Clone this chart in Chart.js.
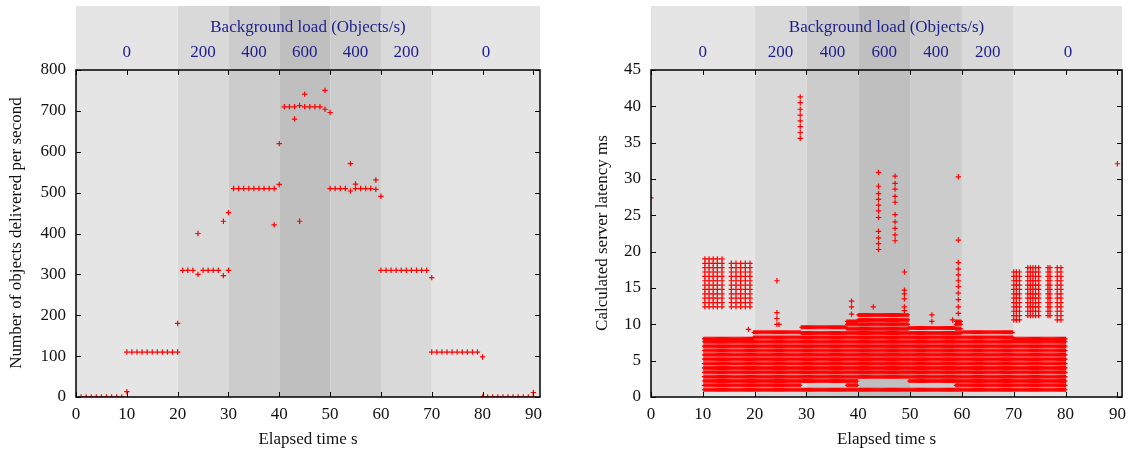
<!DOCTYPE html>
<html>
<head>
<meta charset="utf-8">
<script src="https://cdn.jsdelivr.net/npm/chart.js@4.4.0/dist/chart.umd.min.js"></script>
<style>
    html, body { margin: 0; padding: 0; background: #fff; }
    #wrap { position: relative; width: 1133px; height: 455px; }
    .box { position: absolute; top: 0; height: 455px; }
</style>
</head>
<body>
<div id="wrap">
    <div class="box" style="left:0;width:566px"><canvas id="delivered-chart"></canvas></div>
    <div class="box" style="left:566px;width:567px"><canvas id="latency-chart"></canvas></div>
</div>
<script>
// Background load phases (start second of each phase) and their labels
const loadEdges = [0, 20, 30, 40, 50, 60, 70];
const loadLabels = ['0', '200', '400', '600', '400', '200', '0'];

// Tick values
const timeTicks = [0, 10, 20, 30, 40, 50, 60, 70, 80, 90];
const deliveredTicks = [0, 100, 200, 300, 400, 500, 600, 700, 800];
const latencyTicks = [0, 5, 10, 15, 20, 25, 30, 35, 40, 45];

// Objects delivered per second, one value for each second 1..90
const deliveredRate = [
    0, 0, 0, 0, 0, 0, 0, 0, 0, 110,
    110, 110, 110, 110, 110, 110, 110, 110, 110, 110,
    310, 310, 310, 300, 310, 310, 310, 310, 297, 310,
    510, 510, 510, 510, 510, 510, 510, 510, 510, 520,
    710, 710, 710, 713, 710, 710, 710, 710, 704, 510,
    510, 510, 510, 504, 510, 510, 510, 510, 508, 310,
    310, 310, 310, 310, 310, 310, 310, 310, 310, 110,
    110, 110, 110, 110, 110, 110, 110, 110, 110, 0,
    0, 0, 0, 0, 0, 0, 0, 0, 0, 0
];
// second samples that were logged twice
const extraSeconds = [10, 20, 24, 29, 30, 39, 40, 43, 44, 45, 49, 50, 54, 55, 59, 60, 70, 80, 90];
const extraRates = [13, 180, 400, 430, 451, 421, 620, 680, 430, 741, 750, 696, 571, 521, 531, 491, 292, 98, 11];

// Latency: measured values fall on these quantised levels (ms)
const latencyLevels = [1.0, 1.6, 2.2, 2.8, 3.4, 4.0, 4.6, 5.2, 5.8, 6.4, 7.0, 7.6, 8.2, 8.8, 9.4,
    10.0, 10.6, 11.2, 11.8, 12.4, 13.0, 13.6, 14.2, 14.8, 15.4, 16.0, 16.6, 17.2, 17.8, 18.4, 19.0];
// sample times inside each second
const subSecond = [0, 0.2, 0.4, 0.6, 0.8];

// bulk of requests, per phase
const bulkStart = [10.2, 19.8, 29.0, 37.8, 40.0, 49.8, 58.8, 60.0, 70.0];
const bulkEnd   = [19.8, 29.0, 37.8, 40.0, 49.8, 58.8, 60.0, 70.0, 80.1];
const bulkFloor = [1.0, 1.0, 1.0, 1.0, 1.0, 1.0, 1.0, 1.0, 1.0];
const bulkLow   = [1.6, 1.6, 2.2, 1.6, 2.8, 2.2, 1.6, 1.6, 1.6];
const bulkTop   = [8.0, 8.9, 9.6, 10.4, 11.3, 9.5, 10.4, 8.9, 8.0];

// slow bursts right after a phase change
const burstTimes = [
    [10.4, 11.2, 12.0, 12.8, 13.7],
    [15.5, 16.4, 17.3, 18.2, 19.1],
    [70.0, 70.5, 71.1],
    [72.7, 73.2, 73.7, 74.2, 74.8],
    [76.6, 77.0],
    [78.4, 79.1]
];
const burstLow  = [12.3, 11.9, 10.5, 11.1, 11.0, 10.6];
const burstHigh = [19.1, 18.9, 17.3, 18.0, 17.9, 17.9];

// isolated slow requests
const spikeTimes = [0, 90,
    28.8, 28.8, 28.8, 28.8, 28.8, 28.8, 28.8, 28.8,
    24.3, 24.3, 24.3, 24.3, 24.7, 18.8,
    38.7, 38.7, 38.7, 42.9,
    43.9, 43.9, 43.9, 43.9, 43.9, 43.9, 43.9, 43.9, 43.9, 43.9, 43.9,
    47.1, 47.1, 47.1, 47.1, 47.1, 47.1, 47.1, 47.1, 47.1, 47.1,
    48.9, 48.9, 48.9, 48.9, 48.9, 48.9,
    54.2, 54.2, 58.2,
    59.3, 59.3, 59.3, 59.3, 59.3, 59.3, 59.3, 59.3, 59.3, 59.3, 59.3];
const spikeLatency = [27.4, 32.1,
    35.6, 36.4, 37.2, 38.0, 38.8, 39.6, 40.5, 41.3,
    16.0, 11.6, 10.8, 10.0, 10.0, 9.3,
    13.2, 12.4, 11.4, 12.4,
    20.3, 21.1, 21.9, 22.8, 24.7, 25.6, 26.4, 27.2, 28.0, 29.0, 30.9,
    21.5, 22.3, 23.2, 24.1, 25.1, 26.8, 27.6, 28.6, 29.4, 30.4,
    17.2, 14.7, 14.2, 13.5, 12.4, 11.9,
    11.3, 10.4, 10.6,
    30.3, 21.6, 18.5, 17.6, 16.8, 16.0, 15.2, 14.3, 13.4, 12.4, 11.5];

const FONT = "'Liberation Serif', 'Times New Roman', serif";
const bandShades = ['#e5e5e5', '#d9d9d9', '#cccccc', '#bfbfbf', '#cccccc', '#d9d9d9', '#e5e5e5'];

Chart.defaults.font.family = FONT;
Chart.defaults.font.size = 17;
Chart.defaults.color = '#111';

function buildDelivered() {
    const pts = deliveredRate.map((v, i) => ({ x: i + 1, y: v }));
    extraSeconds.forEach((s, i) => pts.push({ x: s, y: extraRates[i] }));
    return pts;
}

function buildBulk() {
    const pts = [];
    bulkStart.forEach((start, k) => {
        const end = bulkEnd[k];
        const rows = [bulkFloor[k]].concat(
            latencyLevels.filter(l => l >= bulkLow[k] && l <= bulkTop[k] - 0.3), [bulkTop[k]]);
        for (let s = Math.floor(start); s < end; s++) {
            subSecond.forEach(off => {
                const t = s + off;
                if (t < start || t >= end) return;
                rows.forEach(r => pts.push({ x: t, y: r }));
            });
        }
    });
    return pts;
}

function buildSlow() {
    const pts = [];
    burstTimes.forEach((times, k) => {
        const rows = latencyLevels.filter(l => l >= burstLow[k] && l <= burstHigh[k]);
        times.forEach(t => rows.forEach(r => pts.push({ x: t, y: r })));
    });
    spikeTimes.forEach((t, i) => pts.push({ x: t, y: spikeLatency[i] }));
    return pts;
}

// shaded load phases, top label strip, gnuplot-like border and inward ticks
const loadBands = {
    id: 'loadBands',
    beforeDatasetsDraw(chart) {
        const { ctx, chartArea: a, scales: { x } } = chart;
        ctx.save();
        ctx.font = '17px ' + FONT;
        ctx.textAlign = 'center';
        ctx.textBaseline = 'middle';
        loadEdges.forEach((start, i) => {
            const end = i + 1 < loadEdges.length ? loadEdges[i + 1] : x.max;
            const x0 = x.getPixelForValue(start);
            const x1 = x.getPixelForValue(end);
            ctx.fillStyle = bandShades[i];
            ctx.fillRect(x0, 6, x1 - x0, a.bottom - 6);
            ctx.fillStyle = '#1e1e8c';
            ctx.fillText(loadLabels[i], (x0 + x1) / 2, 53);
        });
        ctx.fillText('Background load (Objects/s)', (a.left + a.right) / 2, 28);
        ctx.restore();
    },
    afterDatasetsDraw(chart, args, opts) {
        const { ctx, chartArea: a, scales: { x, y } } = chart;
        ctx.save();
        ctx.strokeStyle = '#000';
        ctx.lineWidth = 1;
        ctx.beginPath();
        x.ticks.forEach(t => {
            const px = Math.round(x.getPixelForValue(t.value)) + 0.5;
            ctx.moveTo(px, a.bottom); ctx.lineTo(px, a.bottom - 5);
            ctx.moveTo(px, a.top); ctx.lineTo(px, a.top + 5);
        });
        y.ticks.forEach(t => {
            const py = Math.round(y.getPixelForValue(t.value)) + 0.5;
            ctx.moveTo(a.left, py); ctx.lineTo(a.left + 5, py);
            ctx.moveTo(a.right, py); ctx.lineTo(a.right - 5, py);
        });
        ctx.stroke();
        ctx.lineWidth = 1.5;
        ctx.strokeRect(a.left, a.top, a.right - a.left, a.bottom - a.top);

        ctx.translate(opts.titleX, opts.titleY);
        ctx.rotate(-Math.PI / 2);
        ctx.fillStyle = '#111';
        ctx.font = '17px ' + FONT;
        ctx.textAlign = 'center';
        ctx.textBaseline = 'middle';
        ctx.fillText(opts.title, 0, 0);
        ctx.restore();
    }
};

function crossSet(points, radius) {
    return {
        data: points,
        pointStyle: 'cross',
        pointRadius: radius,
        borderWidth: 1.2,
        borderColor: '#ff0000',
        backgroundColor: '#ff0000'
    };
}

function makeChart(id, datasets, cfg) {
    const ctx = document.getElementById(id).getContext('2d');
    return new Chart(ctx, {
        type: 'scatter',
        data: { datasets: datasets },
        options: {
            responsive: true,
            maintainAspectRatio: false,
            animation: false,
            events: [],
            layout: { padding: { top: 70, left: 0, right: cfg.padRight, bottom: 0 } },
            plugins: {
                legend: { display: false },
                tooltip: { enabled: false },
                loadBands: { title: cfg.yTitle, titleX: cfg.yTitleX, titleY: 233 }
            },
            scales: {
                x: {
                    type: 'linear',
                    min: 0,
                    max: cfg.xMax,
                    grid: { display: false, drawTicks: false },
                    border: { display: false },
                    ticks: { padding: 7 },
                    afterBuildTicks: s => { s.ticks = timeTicks.map(v => ({ value: v })); },
                    afterFit: s => { s.height = 58; },
                    title: { display: true, text: 'Elapsed time s', padding: { top: 0, bottom: 5 } }
                },
                y: {
                    min: 0,
                    max: cfg.yTicks[cfg.yTicks.length - 1],
                    grid: { display: false, drawTicks: false },
                    border: { display: false },
                    ticks: { padding: 10 },
                    afterBuildTicks: s => { s.ticks = cfg.yTicks.map(v => ({ value: v })); },
                    afterFit: s => { s.width = cfg.yWidth; }
                }
            }
        },
        plugins: [loadBands]
    });
}

makeChart('delivered-chart', [crossSet(buildDelivered(), 2.7)], {
    xMax: 91.3, yTicks: deliveredTicks, yWidth: 76, padRight: 26,
    yTitle: 'Number of objects delivered per second', yTitleX: 17
});
makeChart('latency-chart', [crossSet(buildBulk(), 2.0), crossSet(buildSlow(), 2.7)], {
    xMax: 90.9, yTicks: latencyTicks, yWidth: 85, padRight: 10,
    yTitle: 'Calculated server latency ms', yTitleX: 37
});
</script>
</body>
</html>
